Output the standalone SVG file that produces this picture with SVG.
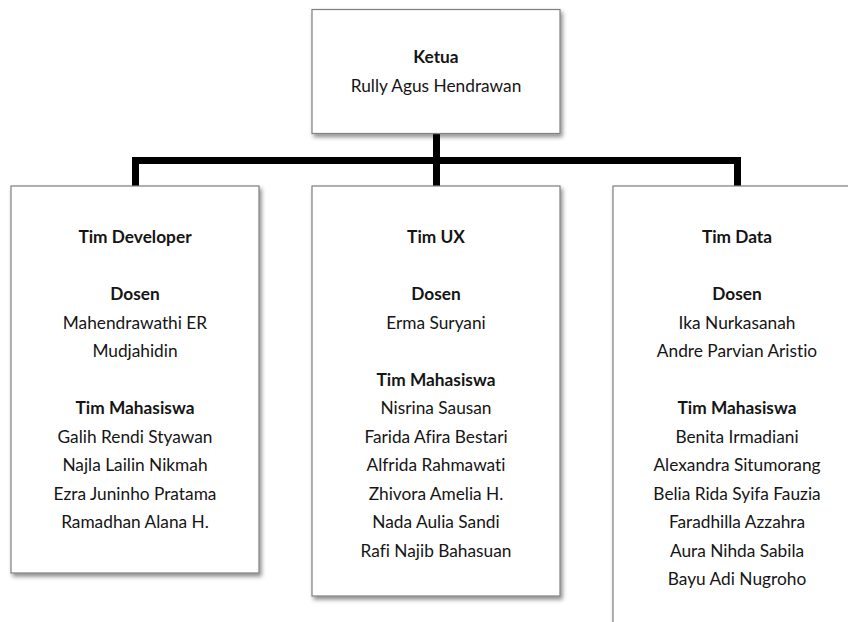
<svg xmlns="http://www.w3.org/2000/svg" width="848" height="622" viewBox="0 0 848 622">
<style>
.box{fill:#fff;stroke:#7f7f7f;stroke-width:1.2;filter:url(#sh)}
text{font-family:Lato,"Liberation Sans",sans-serif;font-size:17.3px;fill:#151515;text-anchor:middle;font-variant-ligatures:none}
.b{font-weight:bold}
.con{stroke:#000;stroke-width:7;fill:none}
</style>
<defs>
<filter id="sh" x="-10%" y="-10%" width="130%" height="130%">
<feDropShadow dx="2" dy="3" stdDeviation="2.2" flood-color="#000" flood-opacity="0.45"/>
</filter>
</defs>
<rect width="848" height="622" fill="#fff"/>
<g id="connectors">
<path class="con" d="M436.5 133V186M135.5 186V160.5H737.5V186"/>
</g>
<g id="ketua">
<rect class="box" x="312" y="9.5" width="248" height="124"/>
<text class="b" x="436" y="63">Ketua</text>
<text x="436" y="92">Rully Agus Hendrawan</text>
</g>
<g id="tim-developer">
<rect class="box" x="11" y="186" width="248" height="387"/>
<text class="b" x="135" y="243">Tim Developer</text>
<text class="b" x="135" y="300">Dosen</text>
<text x="135" y="328.5">Mahendrawathi ER</text>
<text x="135" y="357">Mudjahidin</text>
<text class="b" x="135" y="414">Tim Mahasiswa</text>
<text x="135" y="442.5">Galih Rendi Styawan</text>
<text x="135" y="471">Najla Lailin Nikmah</text>
<text x="135" y="499.5">Ezra Juninho Pratama</text>
<text x="135" y="528">Ramadhan Alana H.</text>
</g>
<g id="tim-ux">
<rect class="box" x="312" y="186" width="248" height="410"/>
<text class="b" x="436" y="243">Tim UX</text>
<text class="b" x="436" y="300">Dosen</text>
<text x="436" y="328.5">Erma Suryani</text>
<text class="b" x="436" y="385.5">Tim Mahasiswa</text>
<text x="436" y="414">Nisrina Sausan</text>
<text x="436" y="442.5">Farida Afira Bestari</text>
<text x="436" y="471">Alfrida Rahmawati</text>
<text x="436" y="499.5">Zhivora Amelia H.</text>
<text x="436" y="528">Nada Aulia Sandi</text>
<text x="436" y="556.5">Rafi Najib Bahasuan</text>
</g>
<g id="tim-data">
<rect class="box" x="613" y="186" width="248" height="460"/>
<text class="b" x="737" y="243">Tim Data</text>
<text class="b" x="737" y="300">Dosen</text>
<text x="737" y="328.5">Ika Nurkasanah</text>
<text x="737" y="357">Andre Parvian Aristio</text>
<text class="b" x="737" y="414">Tim Mahasiswa</text>
<text x="737" y="442.5">Benita Irmadiani</text>
<text x="737" y="471">Alexandra Situmorang</text>
<text x="737" y="499.5">Belia Rida Syifa Fauzia</text>
<text x="737" y="528">Faradhilla Azzahra</text>
<text x="737" y="556.5">Aura Nihda Sabila</text>
<text x="737" y="585">Bayu Adi Nugroho</text>
</g>
</svg>
